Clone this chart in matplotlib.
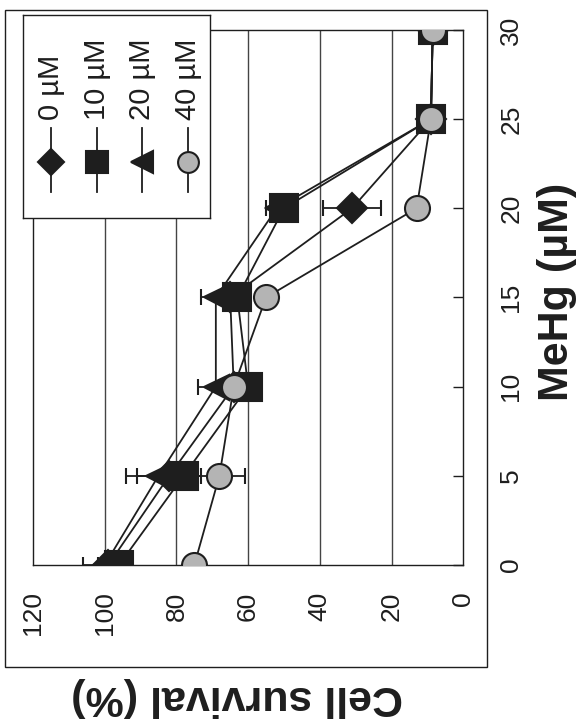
import numpy as np
import matplotlib.pyplot as plt
import matplotlib.patches as patches

plt.rcParams['font.family'] = ['Liberation Sans', 'DejaVu Sans']

mehg = [0, 5, 10, 15, 20, 25, 30]
labels = ['0 µM', '10 µM', '20 µM', '40 µM']
surv_0 = [99, 82, 64, 65, 31, 9, 8.5]
surv_10 = [96, 78, 60, 63, 50, 9, 8.5]
surv_20 = [100, 85, 69, 69, 52, 9, 8.5]
surv_40 = [75, 68, 64, 55, 13, 9, 8.5]
err_0 = [3, 9, 3, 3, 8, 1, 1]
err_10 = [2, 3, 2, 2, 2, 1, 1]
err_20 = [6, 9, 5, 4, 3, 1, 1]
err_40 = [2, 7, 2, 2, 2, 1, 1]

surv_ticks = [0, 20, 40, 60, 80, 100, 120]
mehg_ticks = [0, 5, 10, 15, 20, 25, 30]

ink = '#1e1e1e'
grey = '#b4b4b4'
# marker, face colour, size in the chart, size in the legend
styles = [('D', ink, 15, 13), ('s', ink, 20, 16), ('<', ink, 18, 16), ('o', grey, 18, 15)]

fig = plt.figure(figsize=(5.79, 7.22), dpi=100)

# outer frame
fig.patches.append(patches.Rectangle((0.0086, 0.076), 0.832, 0.910, transform=fig.transFigure,
                                     fill=False, edgecolor=ink, linewidth=1.0))

# chart is drawn turned 90 deg: survival runs horizontally (inverted), MeHg vertically
ax = fig.add_axes([0.057, 0.2175, 0.743, 0.741])
ax.set_xlim(120, 0)
ax.set_ylim(0, 30)

for v in surv_ticks[1:-1]:
    ax.axvline(v, color='#444444', linewidth=1.0, zorder=0)

series = [surv_0, surv_10, surv_20, surv_40]
errs = [err_0, err_10, err_20, err_40]
for i in range(4):
    m, fc, ms, lms = styles[i]
    ax.errorbar(series[i], mehg, xerr=errs[i], color=ink, linewidth=1.3,
                marker=m, markersize=ms, markerfacecolor=fc, markeredgecolor=ink,
                markeredgewidth=1.5, ecolor=ink, elinewidth=1.3, capsize=6, capthick=1.5,
                zorder=2 + i)

for s in ax.spines.values():
    s.set_color(ink)
    s.set_linewidth(1.0)

ax.yaxis.tick_right()
ax.set_yticks(mehg_ticks)
ax.set_yticklabels([str(t) for t in mehg_ticks], rotation=90, va='center', ha='left')
ax.tick_params(axis='y', direction='in', length=7, width=1, color=ink, pad=26,
               labelsize=19, labelcolor=ink, left=False, right=True)
ax.set_xticks(surv_ticks)
ax.set_xticklabels([str(t) for t in surv_ticks], rotation=90, ha='center', va='top')
ax.tick_params(axis='x', length=0, pad=19, labelsize=19, labelcolor=ink)

fig.text(0.962, 0.596, 'MeHg (µM)', rotation=90, ha='center', va='center',
         fontsize=31, fontweight='bold', color=ink)
fig.text(0.41, 0.035, 'Cell survival (%)', rotation=180, ha='center', va='center',
         fontsize=31, fontweight='bold', color=ink)

# legend, turned like the rest
lax = fig.add_axes([0.0397, 0.698, 0.323, 0.281])
lax.set_xlim(0, 187)
lax.set_ylim(203, 0)
lax.set_xticks([])
lax.set_yticks([])
lax.set_facecolor('white')
lax.set_zorder(10)
for s in lax.spines.values():
    s.set_color(ink)
    s.set_linewidth(1.0)
cols = [28, 74, 119, 165]
for i in range(4):
    m, fc, ms, lms = styles[i]
    lax.plot([cols[i], cols[i]], [113, 177], color=ink, linewidth=1.3)
    lax.plot(cols[i], 147, marker=m, markersize=lms,
             markerfacecolor=fc, markeredgecolor=ink, markeredgewidth=1.5)
    lax.text(cols[i], 105, labels[i], rotation=90, ha='center', va='bottom',
             fontsize=21, color=ink)

fig.savefig('out.png', dpi=100)
